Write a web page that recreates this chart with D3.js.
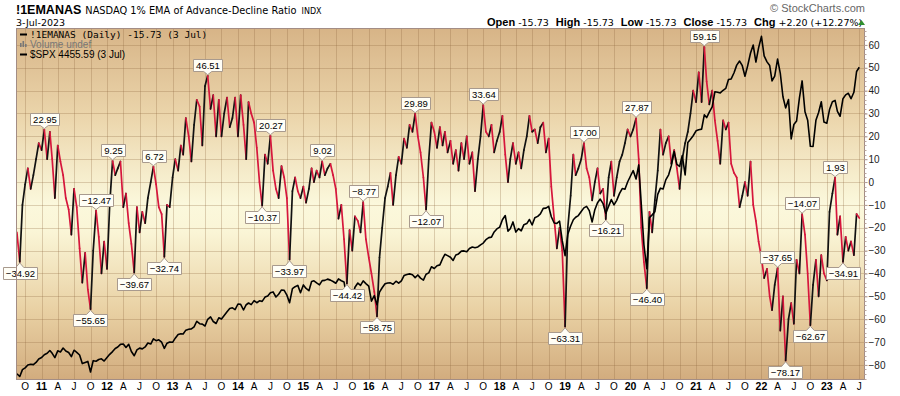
<!DOCTYPE html>
<html>
<head>
<meta charset="utf-8">
<script src="https://cdn.jsdelivr.net/npm/d3@7"></script>
<style>
  body { margin: 0; background: #fff; }
  svg { display: block; }
</style>
</head>
<body>
<svg id="chart" width="900" height="396"></svg>
<script>
// both series: one point on the 1st and 16th of each month, first one 16 Aug 2010

// !1EMANAS, NASDAQ 1% EMA of advance-decline ratio
const ema = [
  // 2010 (from mid Aug)
  -22, -34.92, -10, -1, 6, -3, 3, 10, 17,
  // 2011
  14, 22.95, 10, 22, 10, -7, 16, 9, 3, -7, -12, -23, -3, -11, -29, -44, -31, -47, -55.65, -30, -12.47, -24, -40, -26,
  // 2012
  -38, -10, 9.25, 3, 6, 9, -11, -5, -18, -27, -39.67, -11, -22, -13, -18, -7, 0, 6.72, -1, -11, -14, -32.74, -10, -11,
  // 2013
  2, 10, 5, 16, 12, 28, 20, 9, 25, 36, 33, 16, 42, 46.51, 32, 38, 20, 36, 20, 30, 37, 24, 28, 37,
  // 2014
  20, 38, 25, 10, 35, 30, 26, 15, 0, -10.37, 12, 8, 20.27, 5, -3, -7, 7, 2, -7, -33.97, -4, 2, -4, -7,
  // 2015
  -2, -9, -3, 6, 0, 5, 2, 9.02, 3, 6, 8, 3, -3, -16, -10, -25, -44.42, -21, -30, -15, -17, -22, -8.77, -25,
  // 2016
  -33, -40, -48, -58.75, -33, -20, -7, -2, 4, -10, 3, 11, 8, 19, 15, 25, 22, 29.89, 20, 13, 2, -12.07, 10, 26,
  // 2017
  22, 15, 24, 16, 22, 13, 18, 8, 14, 5, 17, 10, 20, 8, 13, -4, 10, 20, 33.64, 22, 20, 25, 13, 18,
  // 2018
  22, 29, 12, 0, 10, 17, 8, 13, 6, 14, 20, 29, 22, 23, 17, 24, 26, 13, 19, -2, -16, -29, -20, -30,
  // 2019
  -63.31, -20, -6, 12, 3, 6, 10, 17.00, 6, 2, -8, 0, 6, -5, -3, -16.21, 2, 9, -6, 2, 9, 12, 17, 23,
  // 2020
  20, 23, 27.87, 10, -20, -35, -46.40, -13, -22, -8, 5, 23, 12, 17, 20, 8, 14, 6, -3, 10, 17, 22, 30, 40,
  // 2021
  35, 48, 35, 59.15, 44, 34, 40, 27, 18, 8, 27, 23, 26, 8, 4, 2, -11, -6, 0, -6, 9, -10, -17, -26,
  // 2022
  -33, -42, -38, -50, -56, -45, -37.65, -65, -50, -78.17, -60, -53, -62, -34, -40, -14.07, -23, -40, -62.67, -45, -34, -50, -32, -40,
  // 2023 (to 3 Jul)
  -43, -13, -5, 1.93, -23, -15, -34.91, -24, -30, -26, -32, -14, -15.73
]

// $SPX overlay, same dates
const spx = [
  // 2010
  1080, 1050, 1125, 1145, 1176, 1185, 1180, 1205, 1242,
  // 2011
  1258, 1290, 1305, 1336, 1305, 1257, 1332, 1320, 1363, 1330, 1314, 1268, 1339, 1316, 1286, 1192, 1204, 1216, 1099, 1224, 1218, 1237, 1244, 1220,
  // 2012
  1258, 1294, 1324, 1358, 1374, 1404, 1408, 1370, 1405, 1325, 1278, 1342, 1362, 1354, 1375, 1418, 1407, 1465, 1444, 1454, 1427, 1360, 1416, 1430,
  // 2013
  1426, 1472, 1513, 1520, 1518, 1560, 1570, 1574, 1597, 1658, 1631, 1626, 1606, 1680, 1706, 1655, 1633, 1697, 1682, 1721, 1762, 1798, 1806, 1786,
  // 2014
  1848, 1845, 1782, 1840, 1859, 1841, 1885, 1862, 1883, 1877, 1924, 1937, 1973, 1981, 1925, 1955, 2003, 1998, 1946, 1862, 2018, 2039, 2053, 1972,
  // 2015
  2058, 2019, 1995, 2096, 2104, 2081, 2059, 2106, 2108, 2122, 2111, 2096, 2077, 2124, 2104, 2091, 1914, 1995, 1923, 2033, 2079, 2053, 2102, 2073,
  // 2016
  2044, 1880, 1940, 1840, 1978, 2027, 2072, 2080, 2081, 2066, 2099, 2077, 2103, 2161, 2173, 2180, 2171, 2139, 2168, 2133, 2111, 2176, 2191, 2258,
  // 2017
  2239, 2270, 2279, 2347, 2395, 2381, 2363, 2328, 2388, 2400, 2430, 2433, 2423, 2459, 2476, 2468, 2476, 2500, 2519, 2557, 2579, 2585, 2642, 2675,
  // 2018
  2695, 2776, 2822, 2650, 2677, 2752, 2640, 2678, 2654, 2722, 2734, 2779, 2718, 2798, 2813, 2840, 2901, 2904, 2924, 2809, 2740, 2736, 2760, 2545,
  // 2019
  2380, 2616, 2707, 2776, 2804, 2822, 2867, 2907, 2923, 2876, 2752, 2887, 2964, 3004, 2953, 2847, 2926, 2998, 2940, 2990, 3067, 3120, 3113, 3192,
  // 2020
  3258, 3317, 3225, 3380, 2954, 2500, 2237, 2800, 2830, 2864, 3055, 3124, 3115, 3215, 3271, 3372, 3526, 3385, 3363, 3483, 3270, 3627, 3662, 3701,
  // 2021
  3756, 3768, 3774, 3932, 3901, 3962, 4020, 4185, 4181, 4173, 4202, 4223, 4320, 4327, 4395, 4479, 4524, 4473, 4357, 4471, 4613, 4700, 4513, 4669,
  // 2022
  4796, 4580, 4515, 4475, 4306, 4357, 4545, 4392, 4131, 4008, 4101, 3667, 3825, 3863, 4118, 4305, 3966, 3873, 3585, 3583, 3871, 3958, 4076, 3852,
  // 2023
  3840, 3990, 4076, 4090, 3970, 3916, 4109, 4151, 4169, 4109, 4180, 4409, 4456
]

// annotated turning points: [year, value]
const highLabels = [
  [2011, 22.95], [2011, -12.47], [2012, 9.25], [2012, 6.72], [2013, 46.51], [2014, 20.27],
  [2015, 9.02], [2015, -8.77], [2016, 29.89], [2017, 33.64], [2019, 17.00], [2020, 27.87],
  [2021, 59.15], [2022, -37.65], [2022, -14.07], [2023, 1.93]
]
const lowLabels = [
  [2010, -34.92], [2011, -55.65], [2012, -39.67], [2012, -32.74], [2014, -10.37], [2014, -33.97],
  [2015, -44.42], [2016, -58.75], [2016, -12.07], [2019, -63.31], [2019, -16.21], [2020, -46.40],
  [2022, -78.17], [2022, -62.67], [2023, -34.91]
]

const yTicks = [-80, -70, -60, -50, -40, -30, -20, -10, 0, 10, 20, 30, 40, 50, 60]
const monthLetter = { 3: 'A', 6: 'J', 9: 'O' }

const plotLeft = 16
const plotRight = 865
const plotTop = 28
const plotBottom = 380
const upColor = '#111'
const downColor = '#d6163c'

const dates = ema.map((v, i) => {
  const n = i + 1 // first point is the 16th, so odd steps land on the 1st
  return new Date(2010, 7 + Math.floor(n / 2), n % 2 ? 16 : 1)
})

const x = d3.scaleTime()
  .domain([new Date(2010, 7, 11), new Date(2023, 7, 2)])
  .range([plotLeft, plotRight])
const y = d3.scaleLinear().domain([-86.6, 67.4]).range([plotBottom, plotTop])
const ySpx = d3.scaleLinear().domain([1011, 4888]).range([plotBottom, plotTop])

const svg = d3.select('#chart')
const defs = svg.append('defs')

const grad = defs.append('linearGradient')
  .attr('id', 'bg')
  .attr('x1', 0).attr('y1', 0).attr('x2', 0).attr('y2', 1)
grad.selectAll('stop')
  .data([['0', '#d7b487'], ['0.25', '#ebd5ab'], ['0.5', '#fbf8dc'], ['0.58', '#faf5d6'], ['0.8', '#e9d1a4'], ['1', '#d2ac7e']])
  .enter().append('stop')
  .attr('offset', (d) => d[0])
  .attr('stop-color', (d) => d[1])

defs.append('clipPath').attr('id', 'plotclip')
  .append('rect')
  .attr('x', plotLeft).attr('y', plotTop)
  .attr('width', plotRight - plotLeft).attr('height', plotBottom - plotTop)

// header
const title = svg.append('text').attr('x', 16).attr('y', 14)
title.append('tspan')
  .style('font', 'bold 12.5px "Liberation Sans", Arial, sans-serif')
  .text('!1EMANAS')
title.append('tspan')
  .attr('dx', 4)
  .style('font', '9.8px "DejaVu Sans", sans-serif')
  .text('NASDAQ 1% EMA of Advance-Decline Ratio')
title.append('tspan')
  .attr('dx', 5)
  .style('font', '8px "DejaVu Sans", sans-serif')
  .text('INDX')

svg.append('text')
  .attr('x', 16).attr('y', 26)
  .style('font', '9.5px "DejaVu Sans", sans-serif')
  .text('3-Jul-2023')

svg.append('text')
  .attr('x', 865).attr('y', 12)
  .attr('text-anchor', 'end')
  .style('font', '11px "Liberation Sans", Arial, sans-serif')
  .attr('fill', '#666')
  .text('\u00a9 StockCharts.com')

const ohlc = svg.append('text').attr('x', 487).attr('y', 26)
const ohlcParts = [['Open', '-15.73'], ['High', '-15.73'], ['Low', '-15.73'], ['Close', '-15.73'], ['Chg', '+2.20 (+12.27%)']]
ohlcParts.forEach(([k, v], i) => {
  ohlc.append('tspan')
    .attr('dx', i ? 7 : 0)
    .style('font', 'bold 11px "Liberation Sans", Arial, sans-serif')
    .text(k)
  ohlc.append('tspan')
    .attr('dx', 3)
    .style('font', '9.5px "DejaVu Sans", sans-serif')
    .text(v)
})
svg.append('path')
  .attr('d', 'M858,25 L865,25 L861.5,20 Z')
  .attr('fill', '#2f8f2f')

// plot background and grid
svg.append('rect')
  .attr('x', plotLeft).attr('y', plotTop)
  .attr('width', plotRight - plotLeft).attr('height', plotBottom - plotTop)
  .attr('fill', 'url(#bg)')

const quarters = d3.timeMonth.every(3).range(x.domain()[0], x.domain()[1])

const grid = svg.append('g').attr('stroke', 'rgba(140,100,60,0.28)').attr('stroke-width', 1)
grid.selectAll('line.v')
  .data(quarters)
  .enter().append('line')
  .attr('class', 'v')
  .attr('x1', (d) => Math.round(x(d)) + 0.5)
  .attr('x2', (d) => Math.round(x(d)) + 0.5)
  .attr('y1', plotTop).attr('y2', plotBottom)
grid.selectAll('line.h')
  .data(yTicks)
  .enter().append('line')
  .attr('class', 'h')
  .attr('x1', plotLeft).attr('x2', plotRight)
  .attr('y1', (d) => Math.round(y(d)) + 0.5)
  .attr('y2', (d) => Math.round(y(d)) + 0.5)

// legend inside the plot
const legend = svg.append('g')
legend.append('line')
  .attr('x1', 20).attr('x2', 27).attr('y1', 34.5).attr('y2', 34.5)
  .attr('stroke', '#000').attr('stroke-width', 2)
legend.append('text')
  .attr('x', 30).attr('y', 38)
  .style('font', '9.5px "DejaVu Sans Mono", monospace')
  .text('!1EMANAS (Daily) -15.73 (3 Jul)')
legend.selectAll('rect.vol')
  .data([[20, 4], [22.5, 6], [25, 3]])
  .enter().append('rect')
  .attr('class', 'vol')
  .attr('x', (d) => d[0]).attr('width', 1.6)
  .attr('y', (d) => 47 - d[1]).attr('height', (d) => d[1])
  .attr('fill', '#777')
legend.append('text')
  .attr('x', 30).attr('y', 48)
  .style('font', '10px "Liberation Sans", Arial, sans-serif')
  .attr('fill', '#777')
  .text('Volume undef')
legend.append('line')
  .attr('x1', 20).attr('x2', 27).attr('y1', 54.5).attr('y2', 54.5)
  .attr('stroke', '#000').attr('stroke-width', 2)
legend.append('text')
  .attr('x', 30).attr('y', 58)
  .style('font', '10px "Liberation Sans", Arial, sans-serif')
  .text('$SPX 4455.59 (3 Jul)')

// series
const plot = svg.append('g').attr('clip-path', 'url(#plotclip)')

const segs = d3.pairs(ema.map((v, i) => [dates[i], v]))
plot.append('g')
  .attr('stroke-width', 1.7)
  .attr('stroke-linecap', 'round')
  .selectAll('line')
  .data(segs)
  .enter().append('line')
  .attr('x1', (d) => x(d[0][0]))
  .attr('y1', (d) => y(d[0][1]))
  .attr('x2', (d) => x(d[1][0]))
  .attr('y2', (d) => y(d[1][1]))
  .attr('stroke', (d) => (d[1][1] >= d[0][1] ? upColor : downColor))

plot.append('path')
  .datum(spx)
  .attr('fill', 'none')
  .attr('stroke', '#000')
  .attr('stroke-width', 1.6)
  .attr('stroke-linejoin', 'round')
  .attr('d', d3.line().x((d, i) => x(dates[i])).y((d) => ySpx(d)))

// callouts
const fmt = d3.format('.2f')
const callouts = svg.append('g')
function callout([year, v], isHigh) {
  const i = ema.findIndex((e, j) => e === v && dates[j].getFullYear() === year)
  const cx = x(dates[i])
  const py = y(v)
  const g = callouts.append('g')
  const path = g.append('path')
  const t = g.append('text')
    .attr('text-anchor', 'middle')
    .style('font', '9.5px "Liberation Sans", Arial, sans-serif')
    .text(fmt(v))
  const w = t.node().getComputedTextLength() + 5
  const h = 12
  const gap = 5
  const pw = 4
  const x0 = Math.round(cx - w / 2) + 0.5
  const x1 = x0 + Math.round(w)
  let d
  let y0
  if (isHigh) {
    const y1 = Math.round(py - gap) + 0.5
    y0 = y1 - h
    d = `M${x0},${y0}H${x1}V${y1}H${cx + pw}L${cx},${py - 1}L${cx - pw},${y1}H${x0}Z`
  } else {
    y0 = Math.round(py + gap) + 0.5
    const y1 = y0 + h
    d = `M${x0},${y0}H${cx - pw}L${cx},${py + 1}L${cx + pw},${y0}H${x1}V${y1}H${x0}Z`
  }
  path.attr('d', d).attr('fill', '#fffef6').attr('stroke', '#a89a8e').attr('stroke-width', 1)
  t.attr('x', (x0 + x1) / 2).attr('y', y0 + h - 2.5)
}
highLabels.forEach((d) => callout(d, true))
lowLabels.forEach((d) => callout(d, false))

// frame
svg.append('rect')
  .attr('x', plotLeft + 0.5).attr('y', plotTop + 0.5)
  .attr('width', plotRight - plotLeft - 1).attr('height', plotBottom - plotTop - 1)
  .attr('fill', 'none')
  .attr('stroke', '#a38d85')

// right axis
const yAxis = d3.axisRight(y).tickValues(yTicks).tickSize(3).tickPadding(1)
const ay = svg.append('g')
  .attr('transform', `translate(${plotRight - 0.5},0)`)
  .call(yAxis)
ay.select('.domain').remove()
ay.selectAll('.tick line').attr('stroke', '#a38d85')
ay.selectAll('.tick text')
  .style('font', '10px "Liberation Sans", Arial, sans-serif')
  .attr('fill', '#222')
ay.selectAll('line.minor')
  .data(d3.range(-86, 67, 2))
  .enter().append('line')
  .attr('class', 'minor')
  .attr('x1', 0).attr('x2', 2)
  .attr('y1', (d) => Math.round(y(d)) + 0.5)
  .attr('y2', (d) => Math.round(y(d)) + 0.5)
  .attr('stroke', '#b9a59c')

// bottom axis labels
svg.append('g')
  .selectAll('text')
  .data(quarters)
  .enter().append('text')
  .attr('x', (d) => x(d))
  .attr('y', 390)
  .attr('text-anchor', 'middle')
  .style('font', (d) => (d.getMonth() === 0 ? 'bold 10.5px' : '10px') + ' "Liberation Sans", Arial, sans-serif')
  .text((d) => (d.getMonth() === 0 ? String(d.getFullYear()).slice(2) : monthLetter[d.getMonth()]))
</script>
</body>
</html>
